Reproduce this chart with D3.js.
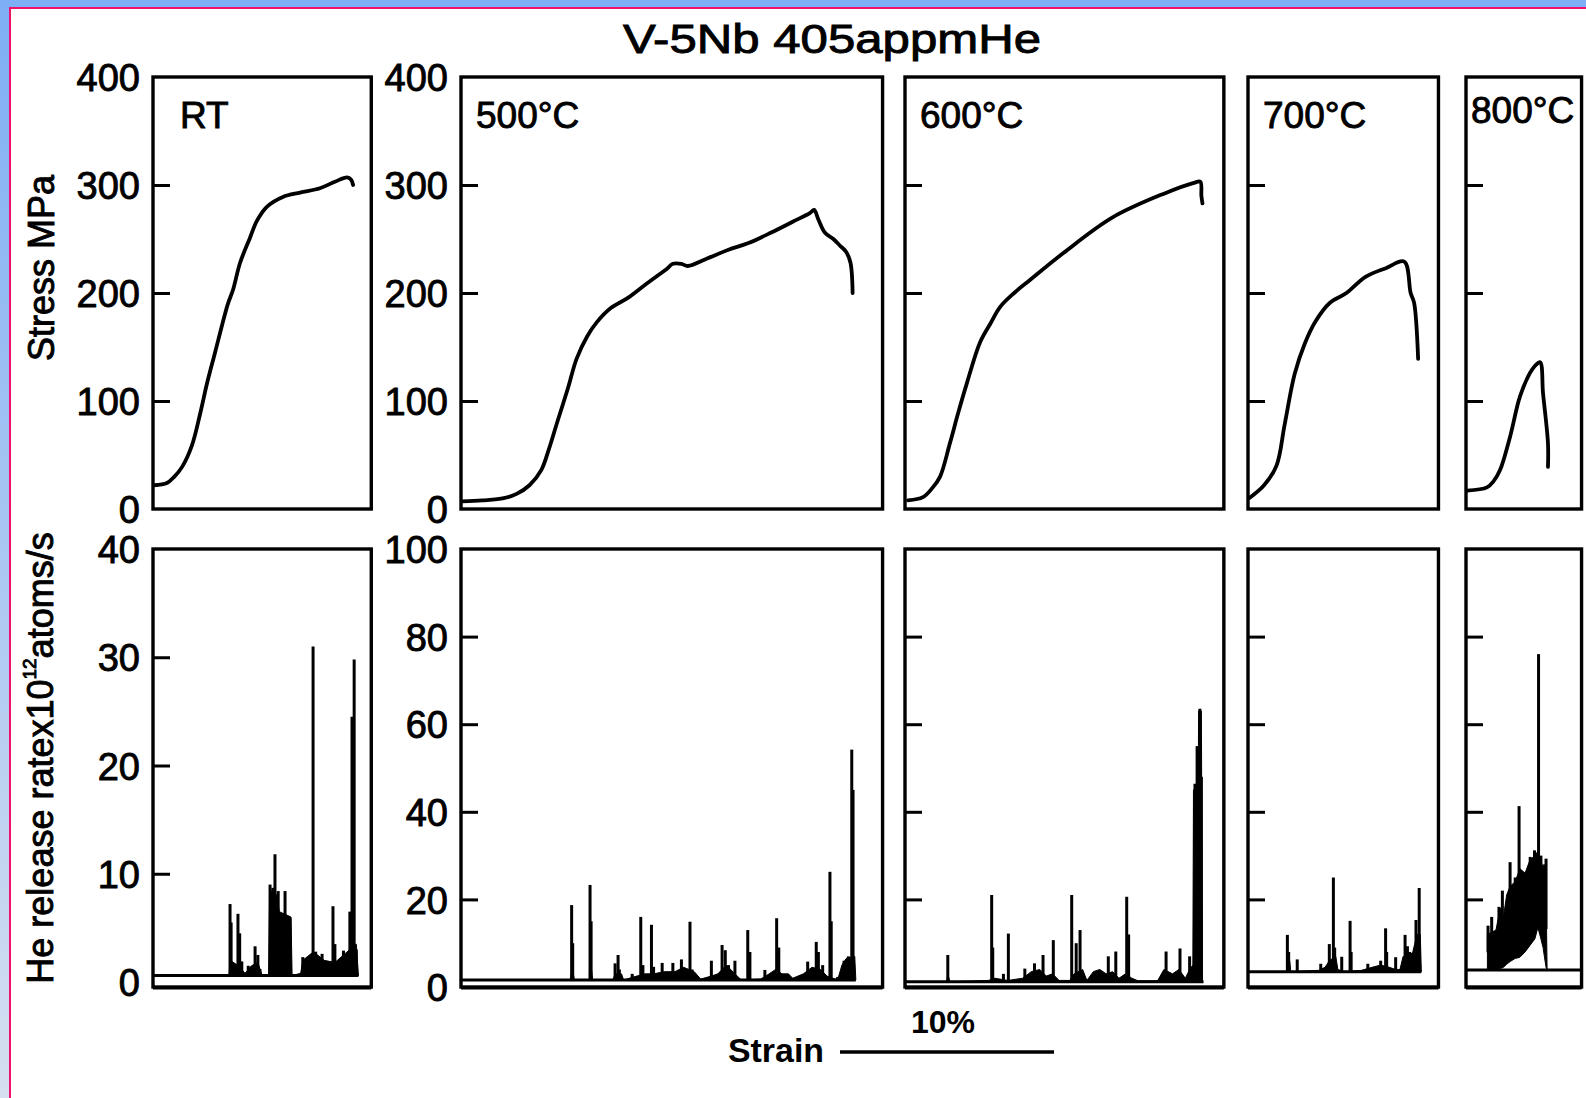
<!DOCTYPE html>
<html lang="en">
<head>
<meta charset="utf-8">
<title>V-5Nb 405appmHe</title>
<script src="https://d3js.org/d3.v7.min.js"></script>
<style>
  body { margin: 0; background: #fff; }
  svg { display: block; }
  text { font-family: "Liberation Sans", Arial, Helvetica, sans-serif; fill: #000; }
  .ink { stroke: #000; stroke-width: 0.9px; }
</style>
</head>
<body>
<svg width="1586" height="1098"></svg>
<script>
// ---- data ----
const panelNames = ["RT", "500°C", "600°C", "700°C", "800°C"];
const strainSpan = [10.2, 19.7, 14.9, 8.9, 5.4];   // % strain across each panel

const stressTicks = [0, 100, 200, 300, 400];
const heTicksRT = [0, 10, 20, 30, 40];
const heTicks = [0, 20, 40, 60, 80, 100];

// stress-strain curves: [strain %, stress MPa]
const stressRT = [[0.05,22],[0.65,24],[1.0,30],[1.36,39],[1.82,59],[2.2,88],[2.52,116],[2.9,145],[3.25,172],[3.5,190],[3.74,203],[4.07,228],[4.53,251],[4.86,267],[5.33,280],[6.07,289],[6.87,293],[7.8,297],[8.5,303],[9.07,307],[9.25,305],[9.35,300]];
const stress500 = [[0.05,7],[1,8],[2,10],[2.6,14],[3.2,22],[3.75,36],[4.1,55],[4.46,78],[5.0,112],[5.4,139],[5.9,160],[6.35,173],[7.0,186],[7.76,195],[8.5,206],[9.18,216],[9.6,222],[9.9,227],[10.3,227],[10.6,225],[11.5,232],[12.5,240],[13.4,246],[14.5,256],[15.5,266],[16.3,274],[16.5,277],[16.7,268],[17.0,256],[17.4,250],[17.7,244],[18.0,238],[18.2,228],[18.3,200]];
const stress600 = [[0.14,8],[0.84,11],[1.3,20],[1.64,30],[2.1,61],[2.5,90],[2.9,117],[3.5,154],[4.0,172],[4.44,187],[5.1,200],[5.84,212],[7.4,237],[9.7,270],[12.1,292],[13.5,302],[13.8,303],[13.85,290],[13.9,283]];
const stress700 = [[0.05,10],[0.75,22],[1.33,40],[1.71,78],[2.18,125],[2.65,153],[3.13,173],[3.83,191],[4.6,200],[5.49,215],[6.44,223],[7.3,229],[7.6,200],[7.76,191],[7.95,139]];
const stress800 = [[0.05,17],[0.98,20],[1.3,26],[1.59,36],[2.06,67],[2.52,104],[2.99,126],[3.2,132],[3.46,136],[3.6,107],[3.83,61],[3.83,39]];

// He release: flat trace level and where the trace ends (% strain)
const heBase = [0.6, 1.6, 1.2, 3.5, 3.9];
const heEnd = [9.6, 18.45, 13.95, 8.1, 5.4];

// He release bursts: [strain %, peak]
const spikesRT = [[3.6,7.2],[3.65,5.5],[3.97,6.3],[4.05,4.5],[4.15,1.9],[4.45,1.5],[4.77,3.3],[4.9,2.5],[5.0,1.2],[5.47,9.0],[5.6,8.7],[5.7,11.8],[5.85,8.4],[6.0,6.3],[6.17,8.4],[6.3,6.0],[6.4,5.9],[7.0,2.3],[7.1,1.7],[7.48,31.0],[7.6,2.8],[7.75,2.3],[7.9,2.6],[8.1,1.9],[8.41,7.0],[8.5,3.5],[8.7,1.7],[8.9,2.9],[9.2,6.5],[9.3,24.5],[9.4,29.8],[9.5,3.0]];
const spikes500 = [[5.17,18.7],[5.22,10],[6.03,23.3],[6.08,15],[7.2,5.4],[7.34,7.3],[7.4,4],[8.0,3],[8.4,16.0],[8.5,5],[8.9,14.2],[9.0,4.6],[9.4,5.5],[9.9,5.5],[10.3,6.3],[10.7,14.9],[10.8,4],[11.7,6.0],[12.2,9.6],[12.35,8.4],[12.5,5],[12.8,6],[13.4,13.0],[13.5,8],[14.2,3.9],[14.75,15.7],[14.85,9],[16.2,5.8],[16.6,10.3],[16.7,8],[16.9,5],[17.24,26.3],[17.3,15],[17.6,2.3],[17.9,6],[18.1,7],[18.26,54.2],[18.32,45]];
const spikes600 = [[2.0,7.3],[4.05,21],[4.1,9],[4.6,3],[4.83,12.2],[5.6,4.2],[6.05,5.4],[6.45,7.3],[6.93,10.7],[7.79,21],[8.0,10],[8.18,13],[9.5,7],[9.85,8.1],[10.36,20.6],[10.45,12],[12.2,8.1],[12.85,8.8],[13.3,7],[13.55,46.4],[13.65,55],[13.78,63.5],[13.85,48]];
const spikes700 = [[1.84,11.9],[1.9,8],[2.3,6.3],[3.4,5.3],[3.8,9.8],[3.99,25],[4.05,9],[4.38,6.9],[4.77,15.1],[4.82,8],[5.6,5.3],[6.2,6],[6.43,13.4],[6.48,8],[6.9,6.8],[7.34,11.9],[7.45,9.3],[7.55,8],[7.85,15.3],[8.0,22.6]];
const spikes800 = [[1.03,14],[1.2,16],[1.54,18.3],[1.7,22],[2.06,28.5],[2.3,25],[2.48,41.3],[2.85,25],[3.0,29.7],[3.2,31.2],[3.39,76],[3.5,30],[3.67,28],[3.74,29.3]];

// dense low-level release: [strain %, level] (filled down to the trace)
const fillRT = [[3.55,0.6],[3.6,2],[4.0,1.5],[4.3,0.8],[4.6,1.5],[4.9,1.8],[5.1,0.6],[5.4,0.6],[5.45,8.5],[5.8,8],[5.9,6.5],[6.45,6],[6.5,0.6],[6.9,0.8],[7.0,2],[7.5,2.8],[8.0,2],[8.5,1.8],[8.9,2.5],[9.2,3],[9.5,3.5],[9.6,0.6]];
const fill500 = [[5.1,1.6],[5.15,3],[5.25,3],[5.3,1.6],[6.0,1.6],[6.0,4],[6.1,4],[6.15,1.6],[7.1,1.6],[7.2,3],[7.5,3],[7.6,1.6],[8.0,2.2],[8.6,3],[9.0,3],[9.5,3.5],[10.0,3.5],[10.4,4.5],[10.9,3.5],[11.2,1.8],[11.7,2.5],[12.0,3],[12.4,5],[12.8,3],[13.1,1.6],[14.0,1.8],[14.4,3],[14.7,4],[15.0,3],[15.3,3],[15.5,2],[16.0,3],[16.4,4.5],[16.8,4],[17.1,2.5],[17.6,1.6],[17.8,5],[18.0,6.5],[18.4,7],[18.45,1.6]];
const fill600 = [[1.95,1.2],[2.0,3],[2.1,1.2],[3.9,1.5],[4.2,2],[4.8,1.5],[5.5,2],[5.9,3.5],[6.3,4],[6.6,2.5],[6.9,3],[7.2,1.5],[7.7,1.5],[7.9,3],[8.3,4],[8.5,1.5],[8.8,3.5],[9.1,4],[9.4,3],[9.7,3.5],[10.0,2],[10.3,3],[10.6,2],[10.9,1.4],[11.8,1.4],[12.1,4],[12.5,3],[12.8,4],[13.1,2],[13.3,4],[13.45,5],[13.48,45],[13.7,46],[13.72,63],[13.85,63],[13.9,1.2]];
const fill700 = [[1.8,3.5],[1.82,6],[1.95,6],[2.0,3.5],[3.3,3.8],[3.6,4.5],[3.8,6],[4.1,7],[4.2,4],[4.5,3.5],[5.3,3.8],[5.8,4.5],[6.2,5],[6.6,4.5],[6.9,4],[7.1,4],[7.25,7],[7.5,6.8],[7.7,8],[7.9,12],[8.05,12],[8.1,3.5]];
// 800°C: band of rapid release [strain %, low, high]
const band800 = [[1.0,3.8,12],[1.2,3.8,12.5],[1.4,4,13],[1.6,4.2,18],[1.75,4.5,16],[1.9,5.2,21],[2.06,5.8,23],[2.29,6.5,24],[2.52,6.8,27],[2.76,8,26],[2.99,9.5,29],[3.22,11,30],[3.36,13.6,31],[3.5,11,29],[3.6,9,27],[3.74,4.5,22],[3.79,3.9,4]];

const stressData = [stressRT, stress500, stress600, stress700, stress800];
const spikeData = [spikesRT, spikes500, spikes600, spikes700, spikes800];
const fillData = [fillRT, fill500, fill600, fill700, []];

// ---- layout ----
const svg = d3.select("svg");
const pxPerPct = 21.4;
const panelLeft = [153, 461, 905, 1248, 1466];
const top1 = 77, bot1 = 509, top2 = 549, bot2 = 987;

// page frame
const defs = svg.append("defs");
const grad = defs.append("linearGradient").attr("id", "side").attr("x1", 0).attr("y1", 0).attr("x2", 0).attr("y2", 1);
grad.append("stop").attr("offset", "0%").attr("stop-color", "#7eaef5");
grad.append("stop").attr("offset", "100%").attr("stop-color", "#d6dff0");
svg.append("rect").attr("width", 1586).attr("height", 1098).attr("fill", "#fff");
svg.append("rect").attr("x", 0).attr("y", 0).attr("width", 1586).attr("height", 7).attr("fill", "#7eaef5");
svg.append("rect").attr("x", 0).attr("y", 0).attr("width", 9).attr("height", 1098).attr("fill", "url(#side)");
svg.append("line").attr("x1", 9).attr("x2", 1586).attr("y1", 8).attr("y2", 8).attr("stroke", "#f0106e").attr("stroke-width", 2);
svg.append("line").attr("x1", 10).attr("x2", 10).attr("y1", 8).attr("y2", 1098).attr("stroke", "#f0106e").attr("stroke-width", 2);

svg.append("text").attr("class", "ink").attr("x", 832).attr("y", 53)
  .attr("text-anchor", "middle").attr("font-size", 41)
  .attr("textLength", 418).attr("lengthAdjust", "spacingAndGlyphs")
  .text("V-5Nb 405appmHe");

const yStress = d3.scaleLinear().domain([0, 400]).range([bot1, top1]);
const smooth = d3.curveCatmullRom.alpha(0.5);

panelNames.forEach((name, i) => {
  const x0 = panelLeft[i];
  const x = d3.scaleLinear().domain([0, strainSpan[i]]).range([x0, x0 + strainSpan[i] * pxPerPct]);
  const xr = x(strainSpan[i]);
  const yHe = d3.scaleLinear().domain([0, i === 0 ? 40 : 100]).range([bot2 - (i === 0 ? 5 : 0), top2]);

  // --- stress panel ---
  const g1 = svg.append("g");
  const axS = d3.axisLeft(yStress).tickValues(stressTicks)
    .tickSizeInner(-17).tickSizeOuter(0).tickPadding(13)
    .tickFormat(i < 2 ? d3.format("d") : () => "");
  const a1 = g1.append("g").attr("transform", `translate(${x0},0)`).call(axS);
  styleAxis(a1, [0, 400]);

  g1.append("path").datum(stressData[i])
    .attr("fill", "none").attr("stroke", "#000").attr("stroke-width", 3.8)
    .attr("stroke-linejoin", "round").attr("stroke-linecap", "round")
    .attr("d", d3.line().curve(smooth).x(d => x(d[0])).y(d => yStress(d[1])));

  g1.append("rect").attr("x", x0).attr("y", top1).attr("width", xr - x0).attr("height", bot1 - top1)
    .attr("fill", "none").attr("stroke", "#000").attr("stroke-width", 3.4);

  g1.append("text").attr("class", "ink").attr("font-size", 37)
    .attr("x", x0 + (i === 0 ? 27 : i === 4 ? 5 : 15)).attr("y", i === 4 ? 123 : 128)
    .text(name);

  // --- He release panel ---
  const g2 = svg.append("g");
  const ticks = i === 0 ? heTicksRT : heTicks;
  const axH = d3.axisLeft(yHe).tickValues(ticks)
    .tickSizeInner(-17).tickSizeOuter(0).tickPadding(13)
    .tickFormat(i < 2 ? d3.format("d") : () => "");
  const a2 = g2.append("g").attr("transform", `translate(${x0},0)`).call(axH);
  styleAxis(a2, [ticks[0], ticks[ticks.length - 1]]);

  const base = heBase[i];
  if (fillData[i].length) {
    g2.append("path").datum(fillData[i]).attr("fill", "#000")
      .attr("stroke", "#000").attr("stroke-width", 1)
      .attr("d", d3.area().x(d => x(d[0])).y0(yHe(base)).y1(d => yHe(d[1])));
  }
  // spikes rise from the trace; at 800°C they rise from inside the release band
  const bandMid = s => {
    const j = d3.bisector(d => d[0]).left(band800, s);
    const a = band800[Math.max(0, j - 1)], b = band800[Math.min(band800.length - 1, j)];
    const t = b[0] === a[0] ? 0 : (s - a[0]) / (b[0] - a[0]);
    return (a[1] + a[2]) / 2 + t * ((b[1] + b[2]) / 2 - (a[1] + a[2]) / 2);
  };
  if (i === 4) {
    g2.append("path").datum(band800).attr("fill", "#000")
      .attr("stroke", "#000").attr("stroke-width", 1)
      .attr("d", d3.area().x(d => x(d[0])).y0(d => yHe(d[1])).y1(d => yHe(d[2])));
  }
  g2.append("line").attr("x1", x(0)).attr("x2", x(heEnd[i]))
    .attr("y1", yHe(base)).attr("y2", yHe(base))
    .attr("stroke", "#000").attr("stroke-width", 3);
  g2.selectAll("line.spike").data(spikeData[i]).join("line").attr("class", "spike")
    .attr("x1", d => x(d[0])).attr("x2", d => x(d[0]))
    .attr("y1", d => yHe(i === 4 ? bandMid(d[0]) : base)).attr("y2", d => yHe(d[1]))
    .attr("stroke", "#000").attr("stroke-width", 3);

  g2.append("rect").attr("x", x0).attr("y", top2).attr("width", xr - x0).attr("height", bot2 - top2)
    .attr("fill", "none").attr("stroke", "#000").attr("stroke-width", 3.4);
  g2.append("line").attr("x1", x0).attr("x2", xr).attr("y1", bot2 + 1).attr("y2", bot2 + 1)
    .attr("stroke", "#000").attr("stroke-width", 3);
});

function styleAxis(a, ends) {
  a.select(".domain").remove();
  a.selectAll(".tick line").attr("stroke", "#000").attr("stroke-width", 3)
    .filter(d => d === ends[0] || d === ends[1]).remove();
  a.selectAll(".tick text").attr("class", "ink").attr("font-size", 38)
    .attr("fill", "#000").attr("dy", "0.36em");
}

// axis titles
svg.append("text").attr("class", "ink").attr("font-size", 36)
  .attr("text-anchor", "middle")
  .attr("transform", "translate(54,268) rotate(-90)")
  .text("Stress MPa");

const heTitle = svg.append("text").attr("class", "ink").attr("font-size", 36)
  .attr("text-anchor", "middle")
  .attr("transform", "translate(53,758) rotate(-90)");
heTitle.append("tspan").text("He release ratex10");
heTitle.append("tspan").attr("font-size", 19).attr("dy", -17).text("12");
heTitle.append("tspan").attr("dy", 17).text("atoms/s");

// strain scale bar (10 %)
const barX = d3.scaleLinear().domain([0, 10]).range([840, 840 + 10 * pxPerPct]);
svg.append("line").attr("x1", barX(0)).attr("x2", barX(10)).attr("y1", 1052).attr("y2", 1052)
  .attr("stroke", "#000").attr("stroke-width", 3.5);
svg.append("text").attr("font-size", 33).attr("font-weight", "bold")
  .attr("x", 728).attr("y", 1062).attr("textLength", 96).attr("lengthAdjust", "spacingAndGlyphs")
  .text("Strain");
svg.append("text").attr("font-size", 32).attr("font-weight", "bold")
  .attr("x", barX(5) - 4).attr("y", 1033).attr("text-anchor", "middle").text("10%");
</script>
</body>
</html>
